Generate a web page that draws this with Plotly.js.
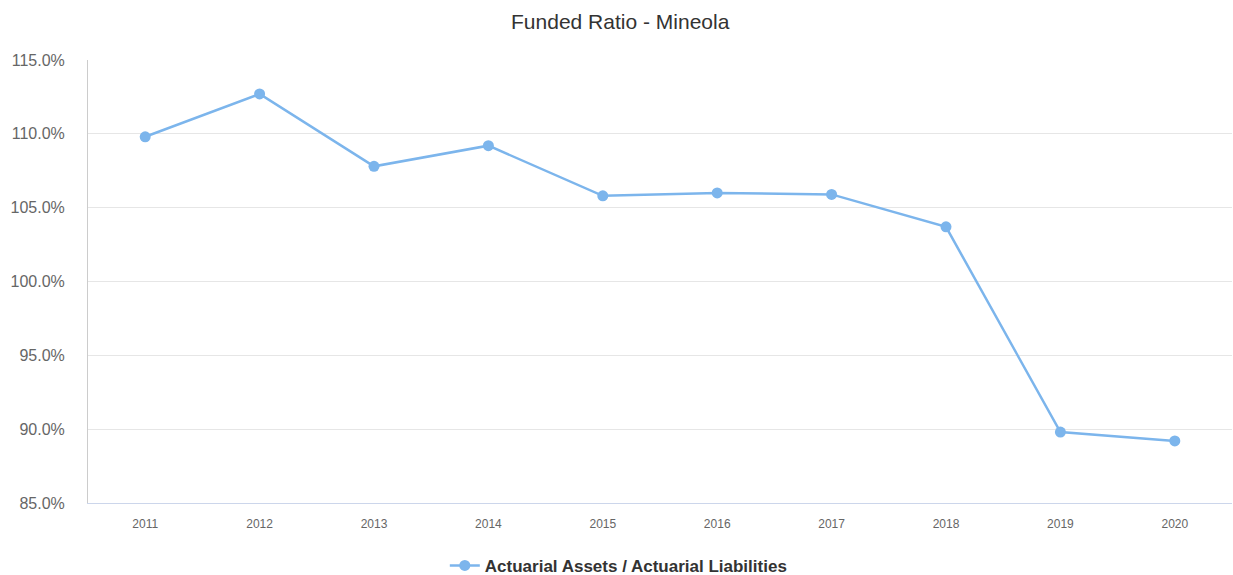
<!DOCTYPE html>
<html>
<head>
<meta charset="utf-8">
<script src="https://cdn.plot.ly/plotly-3.0.1.min.js"></script>
<style>html,body{margin:0;padding:0;background:#fff;}#chart{width:1233px;height:575px;}</style>
</head>
<body>
<div id="chart"></div>
<script>
const years = ['2011','2012','2013','2014','2015','2016','2017','2018','2019','2020'];
const fundedRatio = [109.8, 112.7, 107.8, 109.2, 105.8, 106.0, 105.9, 103.7, 89.8, 89.2];
const seriesName = 'Actuarial Assets / Actuarial Liabilities';
const yTicks = [85, 90, 95, 100, 105, 110, 115];

const trace = {
  x: years,
  y: fundedRatio,
  type: 'scatter',
  mode: 'lines+markers',
  name: seriesName,
  line: {color: '#7cb5ec', width: 2.5},
  marker: {color: '#7cb5ec', size: 11},
  hoverinfo: 'x+y'
};

const layout = {
  width: 1233,
  height: 575,
  margin: {l: 88, r: 1, t: 60, b: 72, autoexpand: false},
  paper_bgcolor: '#fff',
  plot_bgcolor: '#fff',
  font: {family: 'Liberation Sans, Arial, sans-serif', color: '#666'},
  title: {text: 'Funded Ratio - Mineola', x: 0.503, xanchor: 'center', y: 0.962, yanchor: 'middle', font: {size: 21, color: '#333'}},
  xaxis: {
    type: 'category',
    range: [-0.5, 9.5],
    showgrid: false,
    showline: true,
    linecolor: '#ccd6eb',
    linewidth: 1,
    ticks: '',
    ticklabelstandoff: 10,
    tickfont: {size: 12, color: '#666'},
    zeroline: false,
    fixedrange: true
  },
  yaxis: {
    range: [85, 115],
    tickvals: yTicks,
    ticktext: yTicks.map(v => v.toFixed(1) + '%'),
    showgrid: true,
    gridcolor: '#e6e6e6',
    gridwidth: 1,
    showline: true,
    linecolor: '#cccccc',
    linewidth: 1,
    ticks: '',
    ticklabelstandoff: 19,
    tickfont: {size: 16, color: '#666'},
    zeroline: false,
    fixedrange: true
  },
  showlegend: true,
  legend: {
    orientation: 'h',
    x: 0.464, xanchor: 'center',
    y: -0.142, yanchor: 'middle',
    font: {size: 17, color: '#333', weight: 'bold'}
  }
};

Plotly.newPlot('chart', [trace], layout, {displayModeBar: false, staticPlot: true});
</script>
</body>
</html>
